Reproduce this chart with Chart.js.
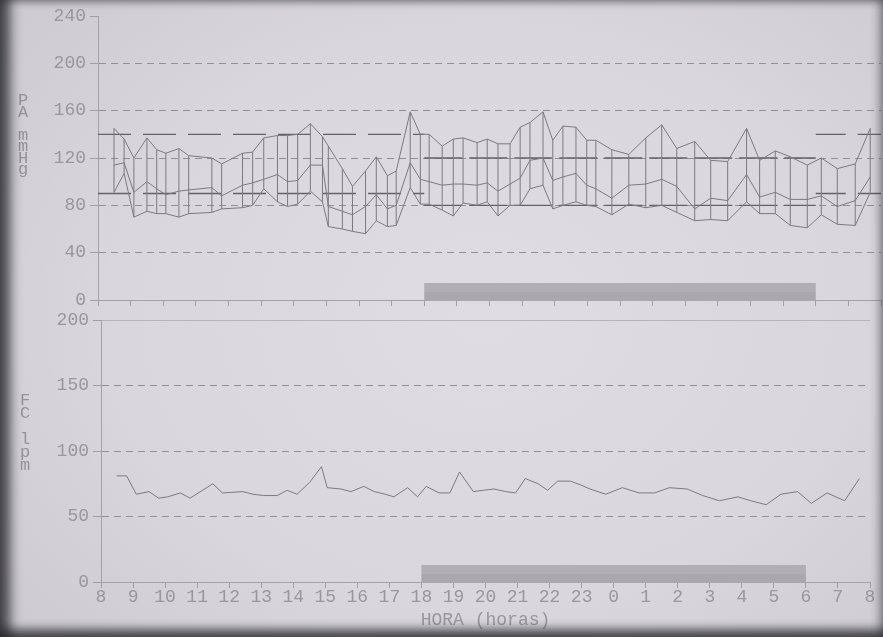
<!DOCTYPE html>
<html>
<head>
<meta charset="utf-8">
<script src="https://cdn.jsdelivr.net/npm/chart.js@4.4.0/dist/chart.umd.min.js"></script>
<style>
html,body{margin:0;padding:0;width:883px;height:637px;overflow:hidden;}
body{position:relative;background:radial-gradient(ellipse 70% 75% at 55% 50%,#dfdde3 0%,#d9d7dd 60%,#cdcbd1 100%);}
canvas{position:absolute;left:0;}
#c1{top:0;}
#c2{top:300px;}
#vig{position:absolute;left:0;top:0;width:883px;height:637px;pointer-events:none;
 box-shadow: inset 16px 0 12px -6px rgba(35,35,40,.8), inset 0 -14px 10px -6px rgba(35,35,40,.75), inset -9px 0 8px -5px rgba(60,60,65,.5), inset 0 7px 7px -4px rgba(60,60,65,.4);}
.vl{position:absolute;color:#949399;font-family:"Liberation Mono","DejaVu Sans Mono",monospace;font-size:17px;text-align:center;width:14px;}
</style>
</head>
<body>
<canvas id="c1" width="883" height="320"></canvas>
<canvas id="c2" width="883" height="337"></canvas>
<div class="vl" style="left:16px;top:95px;line-height:11.5px;">P<br>A<br><br>m<br>m<br>H<br>g</div>
<div class="vl" style="left:18px;top:394px;line-height:13px;">F<br>C<br><br>l<br>p<br>m</div>
<div id="vig"></div>
<script>
// ---- data ----
const hourLabels = ['8','9','10','11','12','13','14','15','16','17','18','19','20','21','22','23','0','1','2','3','4','5','6','7','8'];
const paTicks = [0, 40, 80, 120, 160, 200, 240];
const fcTicks = [0, 50, 100, 150, 200];

const times = [8.49, 8.80, 9.10, 9.50, 9.80, 10.08, 10.48, 10.78, 11.49, 11.79,
  12.43, 12.74, 13.08, 13.50, 13.81, 14.12, 14.51, 14.88, 15.06, 15.49,
  15.80, 16.20, 16.53, 16.87, 17.14, 17.57, 17.88, 18.15, 18.55, 18.89,
  19.19, 19.62, 19.93, 20.26, 20.63, 20.94, 21.24, 21.64, 21.94, 22.25,
  22.65, 22.98, 23.26, 23.75, 24.27, 24.79, 25.28, 25.74, 26.29, 26.78,
  27.30, 27.88, 28.28, 28.76, 29.22, 29.74, 30.17, 30.66, 31.21, 31.67];

const systolic = [145, 136, 120, 137, 127, 124, 128, 122, 120, 115,
  124, 125, 137, 139, 139, 140, 149, 138, 130, 111,
  96, 109, 121, 105, 109, 159, 140, 140, 130, 136,
  137, 133, 136, 132, 132, 146, 150, 159, 135, 147,
  146, 135, 135, 127, 123, 137, 148, 128, 134, 118,
  117, 145, 118, 126, 121, 114, 120, 111, 115, 145];

const meanBP = [114, 116, 91, 100, 94, 89, 92, 93, 95, 88,
  97, 99, 102, 106, 100, 101, 114, 114, 79, 75,
  72, 79, 89, 77, 80, 116, 102, 100, 97, 98,
  98, 97, 99, 92, 98, 103, 118, 120, 101, 104,
  107, 97, 94, 86, 97, 98, 102, 96, 77, 86,
  84, 106, 87, 91, 85, 85, 88, 79, 84, 104];

const diastolic = [91, 107, 70, 75, 73, 73, 70, 73, 74, 77,
  78, 80, 94, 83, 79, 81, 92, 83, 62, 60,
  58, 56, 67, 62, 63, 95, 81, 81, 76, 71,
  82, 80, 83, 71, 80, 80, 94, 97, 77, 80,
  83, 80, 79, 72, 81, 78, 80, 74, 67, 68,
  67, 83, 73, 73, 63, 61, 72, 64, 63, 91];

const heartRate = [81, 81, 67, 69, 64, 65, 68, 64, 75, 68,
  69, 67, 66, 66, 70, 67, 76, 88, 72, 71,
  69, 73, 69, 67, 65, 72, 65, 73, 68, 68,
  84, 69, 70, 71, 69, 68, 79, 75, 70, 77,
  77, 74, 71, 67, 72, 68, 68, 72, 71, 66,
  62, 65, 62, 59, 67, 69, 60, 68, 62, 79];

const periodBounds = [8, 18, 30, 32];      // day / night / morning
const upperLimits = [140, 120, 140];
const lowerLimits = [90, 80, 90];
const nightBand = [18, 30];

// ---- styles ----
const LINE = '#7b7a80';
const LIMIT = '#636268';
const GRID = '#919096';
const TEXT = '#98979d';
const AXIS = '#a3a2a8';
const FONT = "'Liberation Mono','DejaVu Sans Mono',monospace";
const limitDash = [[33, 12], [38, 7], [30, 12]];

const bandPlugin = {
  id: 'band',
  beforeDatasetsDraw(chart) {
    const x = chart.scales.x, a = chart.chartArea, ctx = chart.ctx;
    const x1 = x.getPixelForValue(nightBand[0]), x2 = x.getPixelForValue(nightBand[1]);
    const yb = a.bottom;
    ctx.save();
    ctx.fillStyle = '#b1afb5';
    ctx.fillRect(x1, yb - 17, x2 - x1, 9);
    ctx.fillStyle = '#aaa8ae';
    ctx.fillRect(x1, yb - 8, x2 - x1, 9);
    ctx.restore();
  }
};

function pts(xs, ys) { return xs.map((t, i) => ({x: t, y: ys[i]})); }

function xScale(showLabels, height, title) {
  return {
    type: 'linear', min: 8, max: 32,
    afterBuildTicks: s => { s.ticks = hourLabels.map((_, i) => ({value: 8 + i})); },
    afterFit: s => { s.height = height; },
    grid: {drawOnChartArea: false, drawTicks: true, tickLength: 6, color: AXIS, tickColor: '#a09fa5'},
    border: {display: true, color: AXIS, width: 1},
    ticks: {display: showLabels, autoSkip: false, maxRotation: 0, padding: 0, color: TEXT,
      font: {family: FONT, size: 18, lineHeight: 1},
      callback: v => hourLabels[Math.round(v - 8)]},
    title: title ? {display: true, text: title, color: TEXT, font: {family: FONT, size: 18, lineHeight: 1.2}, padding: {top: 0, bottom: 6}} : {display: false}
  };
}

function yScale(ticksArr, max, width, solidTop) {
  return {
    type: 'linear', min: 0, max: max,
    afterBuildTicks: s => { s.ticks = ticksArr.map(v => ({value: v})); },
    afterFit: s => { s.width = width; },
    grid: {
      drawTicks: true, tickLength: 8, tickColor: '#a09fa5',
      color: c => {
        const v = c.tick ? c.tick.value : null;
        if (v === 0) return 'rgba(0,0,0,0)';
        if (v === max) return solidTop ? '#b5b4ba' : 'rgba(0,0,0,0)';
        return GRID;
      }
    },
    border: {display: true, color: AXIS, width: 1,
      dash: c => (c.tick && c.tick.value === max) ? [] : [7, 5]},
    ticks: {padding: 4, color: TEXT, font: {family: FONT, size: 18}, autoSkip: false}
  };
}

// ---- top chart (PA) ----
const connectors = [];
times.forEach((t, i) => {
  connectors.push({x: t, y: diastolic[i]}, {x: t, y: systolic[i]}, {x: t, y: null});
});

const paDatasets = [
  {data: connectors, borderColor: LINE, borderWidth: 1, pointRadius: 0, spanGaps: false},
  {data: pts(times, systolic), borderColor: LINE, borderWidth: 1, pointRadius: 0},
  {data: pts(times, meanBP), borderColor: LINE, borderWidth: 1, pointRadius: 0},
  {data: pts(times, diastolic), borderColor: LINE, borderWidth: 1, pointRadius: 0}
];
for (let p = 0; p < 3; p++) {
  const xs = [periodBounds[p], periodBounds[p + 1]];
  paDatasets.push({data: pts(xs, [upperLimits[p], upperLimits[p]]), borderColor: LIMIT, borderWidth: 1.4, pointRadius: 0, borderDash: limitDash[p]});
  paDatasets.push({data: pts(xs, [lowerLimits[p], lowerLimits[p]]), borderColor: LIMIT, borderWidth: 1.4, pointRadius: 0, borderDash: limitDash[p]});
}

new Chart(document.getElementById('c1'), {
  type: 'line',
  data: {datasets: paDatasets},
  options: {
    responsive: false, animation: false, events: [],
    layout: {padding: {left: 0, right: 2, top: 16, bottom: 0}, autoPadding: false},
    plugins: {legend: {display: false}, tooltip: {enabled: false}},
    elements: {line: {tension: 0}},
    scales: {x: xScale(false, 20, null), y: yScale(paTicks, 240, 98, false)}
  },
  plugins: [bandPlugin]
});

// ---- bottom chart (FC) ----
new Chart(document.getElementById('c2'), {
  type: 'line',
  data: {datasets: [
    {data: pts(times, heartRate), borderColor: LINE, borderWidth: 1, pointRadius: 0}
  ]},
  options: {
    responsive: false, animation: false, events: [],
    layout: {padding: {left: 0, right: 13, top: 20, bottom: 0}, autoPadding: false},
    plugins: {legend: {display: false}, tooltip: {enabled: false}},
    elements: {line: {tension: 0}},
    scales: {x: xScale(true, 55, 'HORA (horas)'), y: yScale(fcTicks, 200, 101, true)}
  },
  plugins: [bandPlugin]
});
</script>
</body>
</html>
